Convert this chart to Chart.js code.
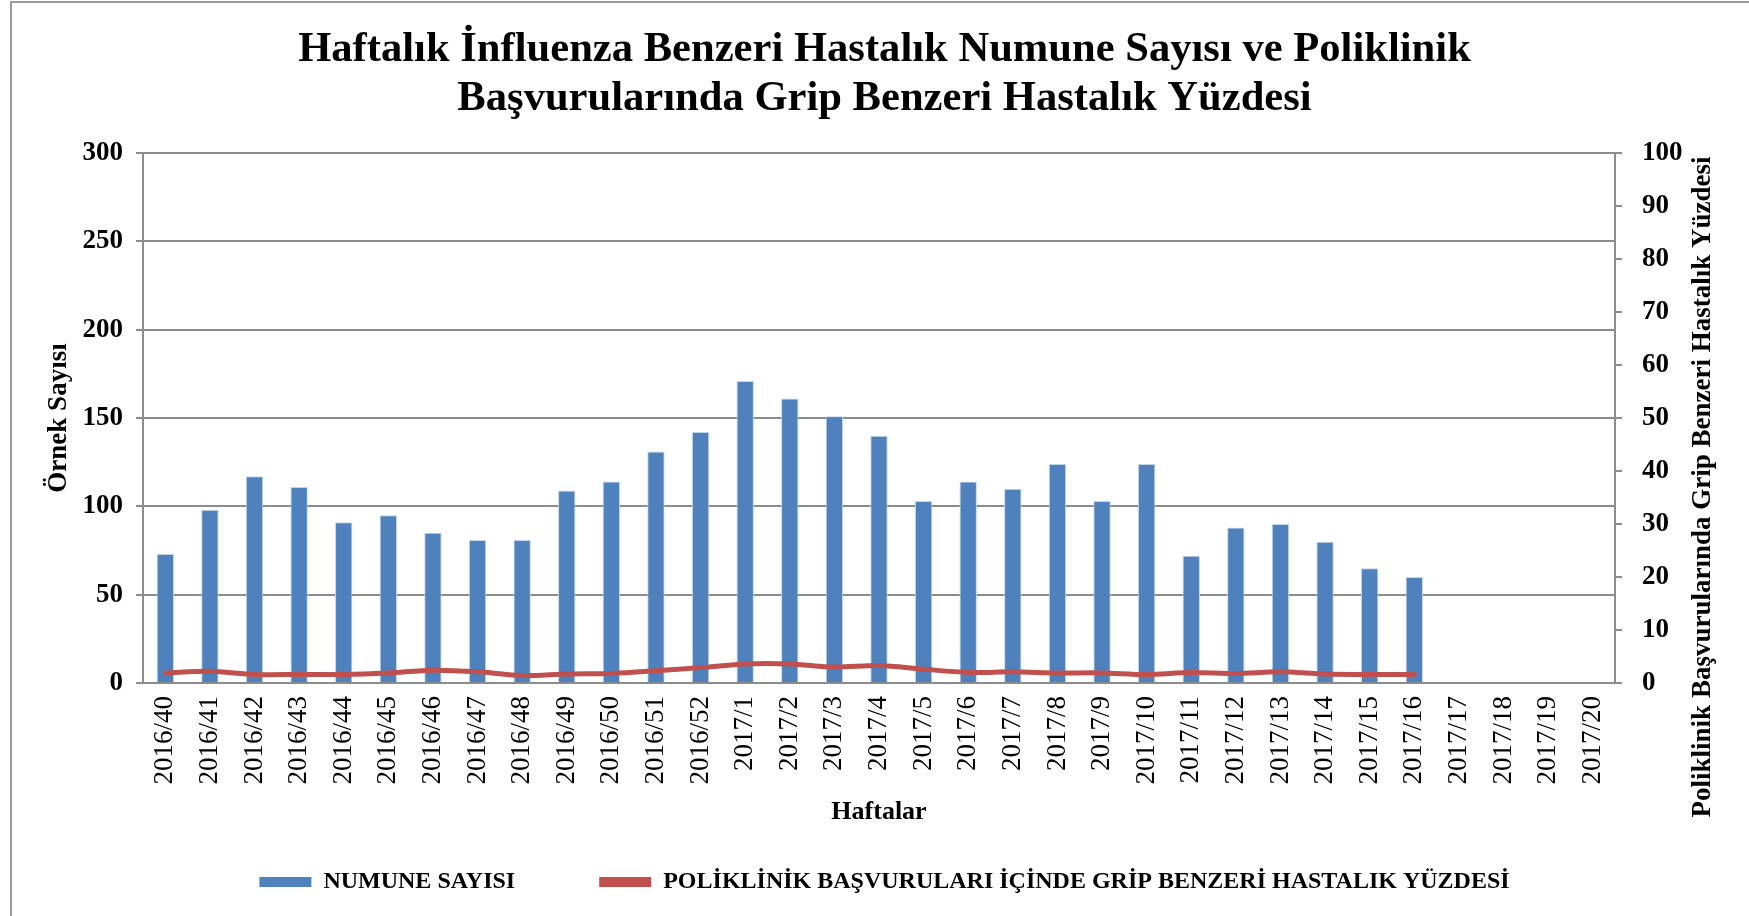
<!DOCTYPE html>
<html>
<head>
<meta charset="utf-8">
<script src="https://cdn.jsdelivr.net/npm/chart.js@4"></script>
<style>
  body { margin: 0; background: #fff; }
</style>
</head>
<body>
<canvas id="gripChart" width="1749" height="916"></canvas>
<script>
// week labels
const weeks = [
    '2016/40', '2016/41', '2016/42', '2016/43', '2016/44', '2016/45', '2016/46',
    '2016/47', '2016/48', '2016/49', '2016/50', '2016/51', '2016/52',
    '2017/1', '2017/2', '2017/3', '2017/4', '2017/5', '2017/6', '2017/7',
    '2017/8', '2017/9', '2017/10', '2017/11', '2017/12', '2017/13', '2017/14',
    '2017/15', '2017/16', '2017/17', '2017/18', '2017/19', '2017/20'
];

// sample counts (left axis)
const numuneSayisi = [
    73, 98, 117, 111, 91, 95, 85, 81, 81, 109, 114, 131, 142,
    171, 161, 151, 140, 103, 114, 110, 124, 103, 124, 72, 88, 90, 80, 65, 60,
    null, null, null, null
];

// ILI percentage in outpatient visits (right axis)
const gbhYuzdesi = [
    1.9, 2.2, 1.6, 1.6, 1.6, 1.9, 2.4, 2.1, 1.4, 1.7, 1.8, 2.3, 2.9,
    3.6, 3.6, 3.0, 3.3, 2.6, 2.0, 2.1, 1.9, 1.9, 1.6, 2.0, 1.8, 2.1, 1.7, 1.6, 1.6,
    null, null, null, null
];

const leftTicks = { min: 0, max: 300, step: 50 };
const rightTicks = { min: 0, max: 100, step: 10 };

const serif = "'Liberation Serif', 'Times New Roman', serif";
const gridGray = '#8c8c8c';

// outer frame of the chart object (left and top edges only are visible)
const framePlugin = {
    id: 'frame',
    beforeDraw(chart) {
        const ctx = chart.ctx;
        ctx.save();
        ctx.strokeStyle = '#9a9a9a';
        ctx.lineWidth = 2;
        ctx.beginPath();
        ctx.moveTo(11, chart.height);
        ctx.lineTo(11, 2);
        ctx.lineTo(chart.width, 2);
        ctx.stroke();
        ctx.restore();
    }
};

// right axis title reads bottom-to-top, chart.js would rotate it the other way
const rightTitlePlugin = {
    id: 'rightTitle',
    afterDraw(chart) {
        const scale = chart.scales.yRight;
        const area = chart.chartArea;
        const ctx = chart.ctx;
        ctx.save();
        ctx.translate(scale.left + 88, (area.top + area.bottom) / 2 + 69);
        ctx.rotate(-Math.PI / 2);
        ctx.font = 'bold 27px ' + serif;
        ctx.fillStyle = '#000';
        ctx.textAlign = 'center';
        ctx.textBaseline = 'middle';
        ctx.fillText('Poliklinik Başvurularında Grip Benzeri Hastalık Yüzdesi', 0, 0);
        ctx.restore();
    }
};

const ctx = document.getElementById('gripChart').getContext('2d');
new Chart(ctx, {
    type: 'bar',
    data: {
        labels: weeks,
        datasets: [
            {
                type: 'line',
                label: 'POLİKLİNİK BAŞVURULARI İÇİNDE GRİP BENZERİ HASTALIK YÜZDESİ',
                data: gbhYuzdesi,
                yAxisID: 'yRight',
                borderColor: '#C0504D',
                backgroundColor: '#C0504D',
                borderWidth: 5,
                borderCapStyle: 'round',
                pointRadius: 0,
                tension: 0.3,
                order: 0
            },
            {
                label: 'NUMUNE SAYISI',
                data: numuneSayisi,
                yAxisID: 'y',
                backgroundColor: '#4F81BD',
                borderColor: '#C3D5EA',
                borderWidth: 1,
                barPercentage: 0.39,
                categoryPercentage: 1,
                order: 1
            }
        ]
    },
    options: {
        responsive: false,
        animation: false,
        layout: { padding: { left: 20, right: 0, top: 0, bottom: 12 } },
        plugins: {
            title: {
                display: true,
                text: [
                    'Haftalık İnfluenza Benzeri Hastalık Numune Sayısı ve Poliklinik',
                    'Başvurularında Grip Benzeri Hastalık Yüzdesi'
                ],
                color: '#000',
                font: { family: serif, size: 42.6, weight: 'bold', lineHeight: 1.15 },
                padding: { top: 25, bottom: 30 }
            },
            legend: {
                position: 'bottom',
                reverse: true,
                labels: {
                    color: '#000',
                    font: { family: serif, size: 24, weight: 'bold' },
                    boxWidth: 52,
                    boxHeight: 10,
                    padding: 84,
                    generateLabels(chart) {
                        return Chart.defaults.plugins.legend.labels.generateLabels(chart)
                            .map(item => ({ ...item, lineWidth: 0 }));
                    }
                }
            },
            tooltip: { enabled: false }
        },
        scales: {
            x: {
                grid: { drawOnChartArea: false, drawTicks: false },
                border: { display: true, color: gridGray, width: 2 },
                ticks: {
                    autoSkip: false,
                    minRotation: 90,
                    maxRotation: 90,
                    padding: 13,
                    color: '#000',
                    font: { family: serif, size: 27 }
                },
                title: {
                    display: true,
                    text: 'Haftalar',
                    color: '#000',
                    font: { family: serif, size: 26, weight: 'bold' },
                    padding: { top: 0, bottom: -42 }
                },
                afterFit(scale) { scale.height = 103; }
            },
            y: {
                position: 'left',
                min: leftTicks.min,
                max: leftTicks.max,
                grid: { color: gridGray, lineWidth: 2, tickLength: 7 },
                border: { color: gridGray, width: 2 },
                ticks: {
                    stepSize: leftTicks.step,
                    padding: 13,
                    color: '#000',
                    font: { family: serif, size: 27, weight: 'bold' }
                },
                title: {
                    display: true,
                    text: 'Örnek Sayısı',
                    color: '#000',
                    font: { family: serif, size: 27, weight: 'bold' },
                    padding: { top: 23, bottom: 0 }
                },
                afterFit(scale) { scale.width = 123; }
            },
            yRight: {
                position: 'right',
                min: rightTicks.min,
                max: rightTicks.max,
                grid: { drawOnChartArea: false, color: gridGray, lineWidth: 2, tickLength: 7 },
                border: { color: gridGray, width: 2 },
                ticks: {
                    stepSize: rightTicks.step,
                    padding: 20,
                    color: '#000',
                    font: { family: serif, size: 27, weight: 'bold' }
                },
                afterFit(scale) { scale.width = 134; }
            }
        }
    },
    plugins: [framePlugin, rightTitlePlugin]
});
</script>
</body>
</html>
